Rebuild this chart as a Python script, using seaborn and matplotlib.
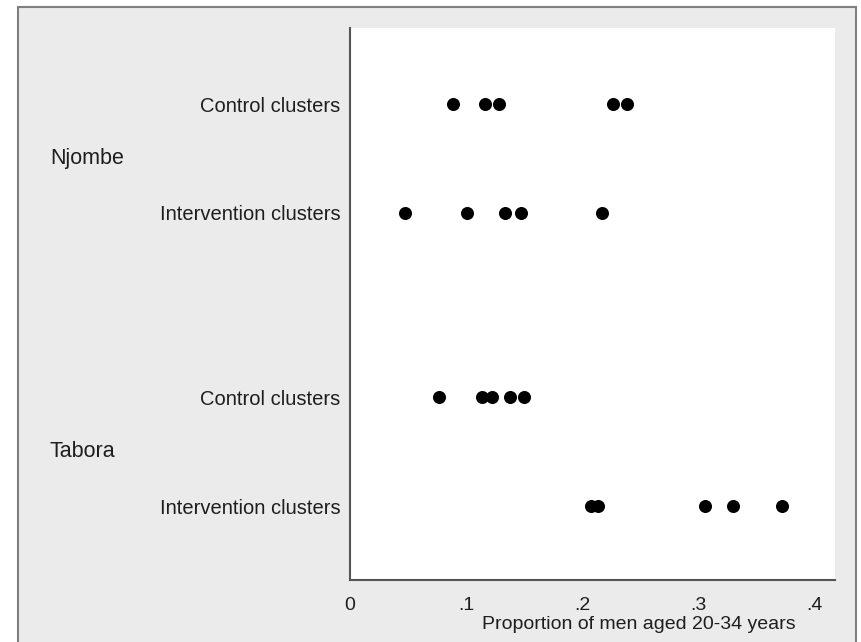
import pandas as pd
import matplotlib.pyplot as plt
import matplotlib.transforms as mtransforms
import seaborn as sns
from matplotlib.patches import Rectangle

# data
regions = ['Njombe', 'Njombe', 'Tabora', 'Tabora']
arms = ['Control clusters', 'Intervention clusters', 'Control clusters', 'Intervention clusters']
njombe_control = [0.089, 0.116, 0.128, 0.227, 0.239]
njombe_intervention = [0.047, 0.101, 0.134, 0.147, 0.217]
tabora_control = [0.077, 0.114, 0.122, 0.138, 0.150]
tabora_intervention = [0.208, 0.214, 0.306, 0.330, 0.372]
x_ticks = [0, 0.1, 0.2, 0.3, 0.4]
x_tick_labels = ['0', '.1', '.2', '.3', '.4']
x_label = 'Proportion of men aged 20-34 years'

# layout: vertical row positions (gap between the two regions)
row_pos = [0, 1, 2.7, 3.7]

series = [njombe_control, njombe_intervention, tabora_control, tabora_intervention]
rows = []
for i, vals in enumerate(series):
    for v in vals:
        rows.append({'row': row_pos[i], 'value': v, 'region': regions[i], 'arm': arms[i]})
df = pd.DataFrame(rows)

sns.set_style('white')
plt.rcParams['font.family'] = ['Liberation Sans', 'DejaVu Sans']
txt_col = '#1e1e1e'

fig = plt.figure(figsize=(8.61, 6.42), dpi=100, facecolor='white')
bg = Rectangle((18 / 861, -0.01), (856 - 18) / 861, 1 - 7 / 642 + 0.01,
               transform=fig.transFigure, facecolor='#ebebeb', edgecolor='#808080',
               linewidth=1.5, zorder=-10)
fig.patches.append(bg)

ax = fig.add_axes([350 / 861, 1 - 580 / 642, (835 - 350) / 861, (580 - 28) / 642])
ax.set_zorder(1)
ax.set_facecolor('white')

sns.scatterplot(data=df, x='value', y='row', color='black', s=88,
                edgecolor='black', linewidth=0, legend=False, ax=ax)

ax.set_xlim(0, 0.418)
ax.set_ylim(3.7 + 0.68, -0.7)
ax.set_xticks(x_ticks)
ax.set_xticklabels(x_tick_labels, fontsize=14, color=txt_col)
ax.set_yticks(row_pos)
ax.set_yticklabels(arms, fontsize=14.5, color=txt_col)
ax.tick_params(axis='y', length=0, pad=7)
ax.tick_params(axis='x', length=5, width=1.2, color='#555555', direction='out', pad=7)
ax.set_xlabel(x_label, fontsize=14, color=txt_col)
ax.xaxis.set_label_coords(0.596, -0.066)
ax.set_ylabel('')

for side in ['top', 'right']:
    ax.spines[side].set_visible(False)
for side in ['left', 'bottom']:
    ax.spines[side].set_color('#555555')
    ax.spines[side].set_linewidth(1.5)

# region labels
trans = mtransforms.blended_transform_factory(fig.transFigure, ax.transData)
for name, pos in [('Njombe', (row_pos[0] + row_pos[1]) / 2), ('Tabora', (row_pos[2] + row_pos[3]) / 2)]:
    ax.text(50 / 861, pos, name, transform=trans, ha='left', va='center',
            fontsize=15.5, color=txt_col, clip_on=False)

fig.savefig('out.png', dpi=100, facecolor=fig.get_facecolor())
